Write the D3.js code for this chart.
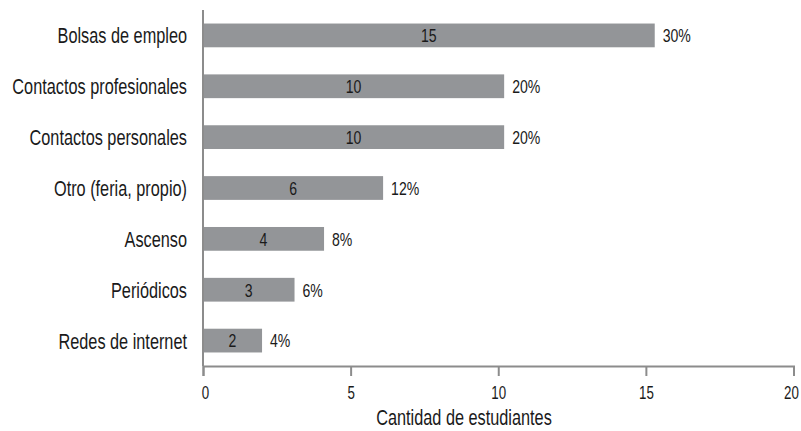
<!DOCTYPE html>
<html><head><meta charset="utf-8">
<script src="https://cdn.jsdelivr.net/npm/d3@7"></script>
<style>body{margin:0;background:#fff}text{font-family:"Liberation Sans",Arial,sans-serif;fill:#1a1a1a}</style>
</head><body><svg id="c" width="801" height="431"></svg>
<script>
const categories = ["Bolsas de empleo","Contactos profesionales","Contactos personales","Otro (feria, propio)","Ascenso","Periódicos","Redes de internet"];
const counts = [15,10,10,6,4,3,2];
const barLengths = [15.3,10.2,10.2,6.1,4.1,3.1,2.0];
const percents = ["30%","20%","20%","12%","8%","6%","4%"];
const xTicks = [0,5,10,15,20];

const svg = d3.select("#c");
const x = d3.scaleLinear().domain([0,20]).range([203,793.5]);
const y = d3.scaleBand().domain(categories).range([10,366]).paddingInner(0.533).paddingOuter(0.266);

const data = categories.map((c,i)=>({c, n:counts[i], v:barLengths[i], p:percents[i]}));

svg.selectAll("rect.bar").data(data).join("rect").attr("class","bar")
  .attr("x", x(0)).attr("y", d=>y(d.c)).attr("width", d=>x(d.v)-x(0)).attr("height", y.bandwidth())
  .attr("fill","#939598");

svg.selectAll("text.in").data(data).join("text").attr("class","in cond")
  .attr("x", d=>(x(0)+x(d.v))/2).attr("y", d=>y(d.c)+y.bandwidth()/2).attr("dy","0.36em")
  .attr("text-anchor","middle").style("font-size","19px").text(d=>d.n);

svg.selectAll("text.pct").data(data).join("text").attr("class","pct cond")
  .attr("x", d=>x(d.v)+8).attr("y", d=>y(d.c)+y.bandwidth()/2).attr("dy","0.36em")
  .style("font-size","19px").text(d=>d.p);

svg.selectAll("text.cat").data(data).join("text").attr("class","cat cond")
  .attr("x", 187).attr("y", d=>y(d.c)+y.bandwidth()/2).attr("dy","0.36em")
  .attr("text-anchor","end").style("font-size","22px").text(d=>d.c);

const xAxis = svg.append("g").attr("transform","translate(0,366)")
  .call(d3.axisBottom(x).tickValues(xTicks).tickSize(10).tickPadding(10));
xAxis.select(".domain").attr("stroke","#8c8c8c").attr("stroke-width",2);
xAxis.selectAll(".tick line").attr("stroke","#8c8c8c").attr("stroke-width",2);
xAxis.selectAll(".tick text").attr("class","cond").style("font-size","18px")
  .style("font-family",'"Liberation Sans",Arial,sans-serif').attr("fill","#1a1a1a")
  .attr("dx", d => d === 20 ? -2.5 : (d === 0 ? 2 : 0));

svg.append("line").attr("x1",x(0)).attr("x2",x(0)).attr("y1",10).attr("y2",366)
  .attr("stroke","#8c8c8c").attr("stroke-width",2);

svg.append("text").attr("class","cond").attr("x",464).attr("y",425).attr("text-anchor","middle")
  .style("font-size","22px").text("Cantidad de estudiantes");

// condense all texts horizontally (imitating a condensed typeface)
const factor = 0.74;
svg.selectAll("text.cond").each(function(){
  const w = this.getComputedTextLength();
  d3.select(this).attr("textLength", w*factor).attr("lengthAdjust","spacingAndGlyphs");
});
</script></body></html>
